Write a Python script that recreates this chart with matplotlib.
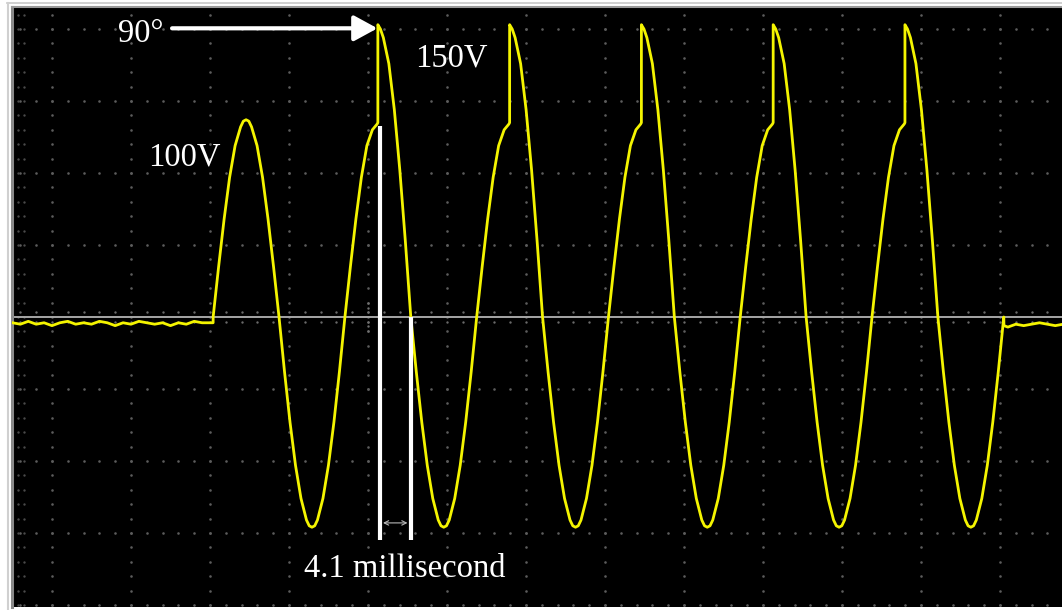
import numpy as np
import matplotlib.pyplot as plt

# sampling of one cycle, phase in degrees
phase_normal = [0, 15, 30, 45, 60, 75, 82.5, 90, 97.5, 105, 120, 135, 150, 165, 180,
                195, 210, 225, 240, 255, 262.5, 270, 277.5, 285, 300, 315, 330, 345, 360]
volt_normal = [0, 35, 68, 97, 119, 132, 136, 137, 136, 132, 119, 97, 68, 35, 0,
               -38, -73, -103, -126, -141, -145, -146, -145, -141, -126, -103, -73, -38, 0]

# swell cycle: jumps at 90 deg from 100V level to 150V level
phase_swell = [0, 15, 30, 45, 60, 75, 88, 90, 90, 97, 105, 120, 135, 150, 165, 180,
               195, 210, 225, 240, 255, 262.5, 270, 277.5, 285, 300, 315, 330, 345, 360]
volt_swell = [0, 35, 68, 97, 119, 130, 134, 135, 203, 200, 194, 176, 144, 102, 53, 0,
              -38, -73, -103, -126, -141, -145, -146, -145, -141, -126, -103, -73, -38, 0]

n_swell = 5
t_start = 0.4      # ms
period = 16.68     # ms (60 Hz)

# flat (noisy) parts before and after the event
pre_t = [-25, -24, -23, -22, -21, -20, -19, -18, -17, -16, -15, -14, -13,
         -12, -11, -10, -9, -8, -7, -6, -5, -4, -3, -2, -1, 0, 0.4]
pre_v = [-4, -5, -3, -5, -4, -6, -4, -3, -5, -4, -5, -3, -4, -6,
         -4, -5, -3, -4, -5, -4, -6, -4, -5, -3, -4, -4, -4]
post_t = [100.5, 101, 102, 103, 104, 105, 106, 107, 108]
post_v = [-6, -7, -5, -6, -5, -4, -5, -6, -5]

# build the trace
t_list = list(pre_t)
v_list = list(pre_v)
for p, v in zip(phase_normal, volt_normal):
    t_list.append(t_start + p / 360 * period)
    v_list.append(v)
for k in range(1, n_swell + 1):
    for p, v in zip(phase_swell, volt_swell):
        t_list.append(t_start + (k + p / 360) * period)
        v_list.append(v)
t_list += post_t
v_list += post_v

fig = plt.figure(figsize=(10.62, 6.10), dpi=100)
fig.patch.set_facecolor('white')
ax = fig.add_axes([12 / 1062, 3 / 610, 1050 / 1062, 600 / 610])
ax.set_facecolor('black')
ax.set_xlim(-25.06, 107.85)
ax.set_ylim(-201.4, 215.3)
ax.set_xticks([])
ax.set_yticks([])
for s in ['right', 'bottom']:
    ax.spines[s].set_visible(False)
ax.spines['top'].set_color('#9a9a9a')
ax.spines['top'].set_linewidth(1.5)
ax.spines['left'].set_color('#8a8a8a')
ax.spines['left'].set_linewidth(2.2)
# outer frame lines
fig.add_artist(plt.Line2D([7 / 1062, 1], [1 - 3 / 610, 1 - 3 / 610],
                          color='#c8c8c8', lw=1.2))
fig.add_artist(plt.Line2D([8 / 1062, 8 / 1062], [0, 1 - 3 / 610],
                          color='#d0d0d0', lw=1.5))

# oscilloscope graticule (dotted)
grid_x = np.arange(-20, 110, 10)
grid_y = np.arange(-200, 201, 50)
dot_x, dot_y = [], []
for gy in grid_y:
    if gy == 0:
        continue
    xs = np.arange(-24, 108, 2)
    dot_x += list(xs)
    dot_y += [gy] * len(xs)
for gx in grid_x:
    ys = np.arange(-200, 216, 10)
    dot_x += [gx] * len(ys)
    dot_y += list(ys)
ax.scatter(dot_x, dot_y, s=3.5, color='#5c5c5c', linewidths=0, zorder=1)
ax.scatter([-24.3] * 42 + [-23.5] * 42, list(np.arange(-200, 216, 10)) * 2,
           s=3, color='#4a4a4a', linewidths=0, zorder=1)

# centre axis with ticks
ax.axhline(0, color='#a6a6a6', lw=1.4, zorder=2)
tx = np.arange(-24, 108, 2)
ax.scatter(list(tx) * 2, [3.5] * len(tx) + [-3.5] * len(tx),
           s=3, color='#6a6a6a', linewidths=0, zorder=2)
ax.scatter([20] * 6, [-10, -6.5, -3.5, 3.5, 6.5, 10], s=3, color='#707070',
           linewidths=0, zorder=2)

# waveform
ax.plot(t_list, v_list, color='#f4f400', lw=2.0, zorder=3)

# annotations
txt = dict(color='white', fontsize=23.5, family=['Liberation Serif', 'DejaVu Serif'],
           ha='center', va='center')
ax.text(-8.7, 197, '90°', **txt)
ax.text(30.5, 180, '150V', **txt)
ax.text(-3.3, 111, '100V', **txt)
ax.text(24.6, -175, '4.1 millisecond', **txt)

ax.annotate('', xy=(21.2, 200.5), xytext=(-4.8, 200.5),
            arrowprops=dict(arrowstyle='-|>,head_length=0.55,head_width=0.3',
                            color='white', lw=3, mutation_scale=26,
                            shrinkA=0, shrinkB=0), zorder=4)

ax.plot([21.5, 21.5], [133, -155], color='white', lw=3, zorder=4,
        solid_capstyle='butt')
ax.plot([25.4, 25.4], [0, -155], color='white', lw=3, zorder=4,
        solid_capstyle='butt')
ax.annotate('', xy=(25.0, -143), xytext=(21.9, -143),
            arrowprops=dict(arrowstyle='<->', color='#b8b8b8', lw=0.8,
                            mutation_scale=8, shrinkA=0, shrinkB=0), zorder=4)

plt.savefig('out.png', dpi=100, facecolor='white')
